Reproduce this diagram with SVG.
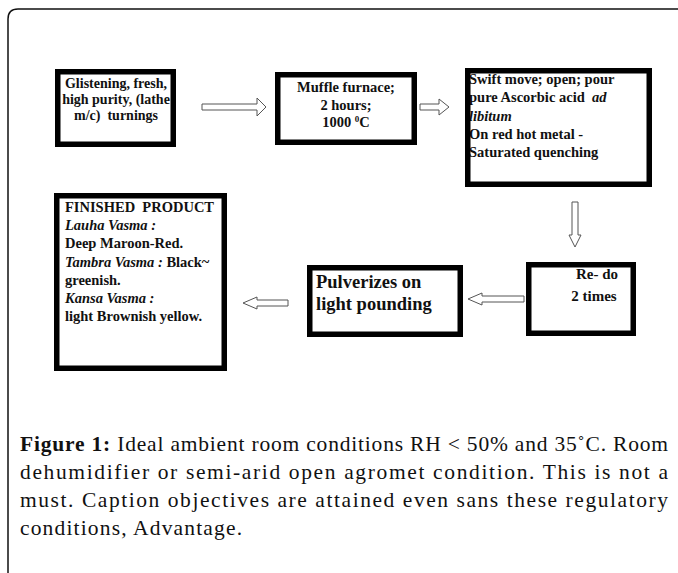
<svg xmlns="http://www.w3.org/2000/svg" width="678" height="573" viewBox="0 0 678 573">
<style>
.box{fill:none;stroke:#000;stroke-width:5.5}
.t{font-family:"Liberation Serif","Times New Roman",serif;font-weight:bold;font-size:14.5px;fill:#111}
.i{font-style:italic}
.arr{fill:#fff;stroke:#555;stroke-width:1}
.cap{font-family:"Liberation Serif","Times New Roman",serif;font-size:21.5px;fill:#111}
</style>
<rect x="0" y="0" width="678" height="573" fill="#fff"/>
<path d="M8,573 V19 Q8,9 18,9 H678" fill="none" stroke="#111" stroke-width="1.5"/>

<g id="node1">
<rect class="box" x="57.75" y="71.75" width="115.5" height="72.5"/>
<text class="t" text-anchor="middle" style="font-size:14px"><tspan x="116" y="88">Glistening, fresh,</tspan><tspan x="116" y="104">high purity, (lathe</tspan><tspan x="116" y="120">m/c)&#160; turnings</tspan></text>
</g>
<g id="node2">
<rect class="box" x="277.75" y="74.75" width="136.5" height="67.5"/>
<text class="t" text-anchor="middle"><tspan x="346" y="92">Muffle furnace;</tspan><tspan x="346" y="109.5">2 hours;</tspan><tspan x="346" y="127">1000 <tspan font-size="9" dy="-5">0</tspan><tspan dy="5">C</tspan></tspan></text>
</g>
<g id="node3">
<text class="t"><tspan x="469" y="84">Swift move; open; pour</tspan><tspan x="469" y="102.25">pure Ascorbic acid&#160; <tspan class="i">ad</tspan></tspan><tspan x="469" y="120.5" class="i">libitum</tspan><tspan x="469" y="138.75">On red hot metal -</tspan><tspan x="469" y="157">Saturated quenching</tspan></text>
<rect class="box" x="467.75" y="70.75" width="181.5" height="113.5"/>
</g>
<g id="node4">
<text class="t"><tspan x="65" y="212">FINISHED&#160; PRODUCT</tspan><tspan x="65" y="230.2" class="i">Lauha Vasma :</tspan><tspan x="65" y="248.4">Deep Maroon-Red.</tspan><tspan x="65" y="266.6"><tspan class="i">Tambra Vasma :</tspan> Black~</tspan><tspan x="65" y="284.8">greenish.</tspan><tspan x="65" y="303" class="i">Kansa Vasma :</tspan><tspan x="65" y="321.2">light Brownish yellow.</tspan></text>
<rect class="box" x="56.75" y="195.75" width="167.5" height="172.5"/>
</g>
<g id="node5">
<rect class="box" x="309.75" y="267.75" width="150.5" height="66.5"/>
<text class="t" style="font-size:18.5px"><tspan x="316" y="288">Pulverizes on</tspan><tspan x="316" y="310">light pounding</tspan></text>
</g>
<g id="node6">
<rect class="box" x="528.75" y="264.75" width="104.5" height="68.5"/>
<text class="t" style="font-size:15px" text-anchor="middle"><tspan x="597" y="279">Re- do</tspan><tspan x="594" y="301">2 times</tspan></text>
</g>

<g id="connectors">
<polygon class="arr" points="202,104 257,104 257,98 266,107 257,116 257,110 202,110"/>
<polygon class="arr" points="420,104 439,104 439,99 449,107 439,115 439,110 420,110"/>
<polygon class="arr" points="572,202 578,202 578,235 581,235 575,247 569,235 572,235"/>
<polygon class="arr" points="524,296 482,296 482,293 468,299 482,305 482,302 524,302"/>
<polygon class="arr" points="288,300 257,300 257,297 243,303 257,309 257,306 288,306"/>
</g>

<g id="caption">
<text class="cap" x="20" y="451" textLength="648" lengthAdjust="spacing"><tspan font-weight="bold">Figure 1:</tspan> Ideal ambient room conditions RH &lt; 50% and 35˚C. Room</text>
<text class="cap" x="20" y="479" textLength="648" lengthAdjust="spacing">dehumidifier or semi-arid open agromet condition. This is not a</text>
<text class="cap" x="20" y="507" textLength="648" lengthAdjust="spacing">must. Caption objectives are attained even sans these regulatory</text>
<text class="cap" x="20" y="535" textLength="222" lengthAdjust="spacing">conditions, Advantage.</text>
</g>
</svg>
